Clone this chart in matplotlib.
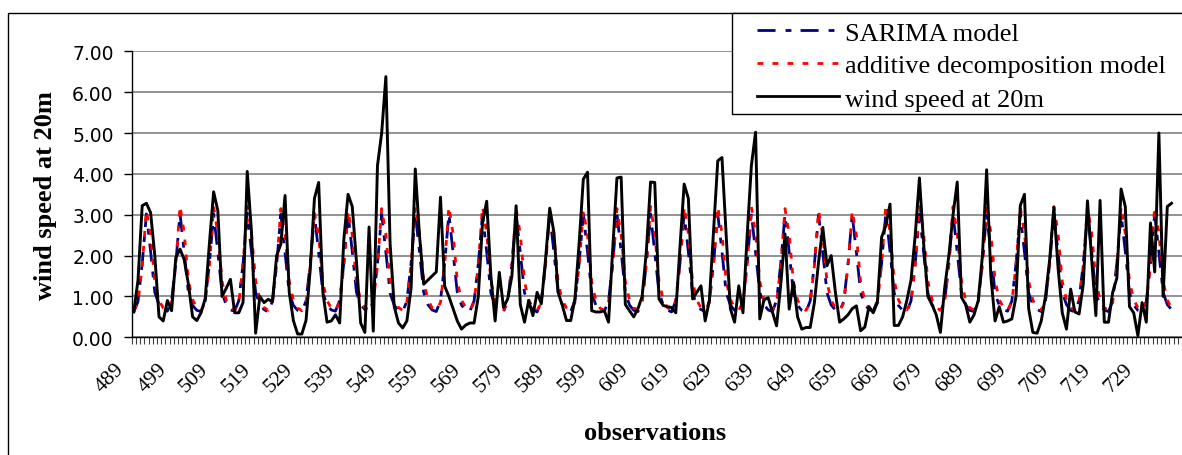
import matplotlib
matplotlib.use("Agg")
import matplotlib.pyplot as plt
from matplotlib.lines import Line2D
from matplotlib.patches import Rectangle
from matplotlib.transforms import ScaledTranslation

# observations 489 .. 736
first_obs = 489

wind_speed = [
    0.62, 1.40, 3.22, 3.28, 3.05, 2.00, 0.50, 0.40,
    0.90, 0.65, 1.95, 2.16, 1.90, 1.30, 0.50, 0.41,
    0.60, 0.95, 2.30, 3.56, 3.10, 1.00, 1.20, 1.42,
    0.60, 0.60, 0.85, 4.06, 2.60, 0.10, 1.00, 0.85,
    0.93, 0.87, 2.00, 2.28, 3.47, 1.10, 0.40, 0.08,
    0.08, 0.42, 1.67, 3.40, 3.79, 1.10, 0.37, 0.40,
    0.55, 0.35, 2.40, 3.50, 3.20, 1.85, 0.35, 0.12,
    2.70, 0.15, 4.20, 5.00, 6.38, 2.30, 0.75, 0.35,
    0.23, 0.40, 1.20, 4.12, 2.50, 1.30, 1.40, 1.50,
    1.60, 3.43, 1.25, 1.00, 0.70, 0.40, 0.20, 0.30,
    0.35, 0.35, 1.00, 2.80, 3.33, 1.50, 0.40, 1.59,
    0.73, 0.94, 1.50, 3.22, 0.80, 0.37, 0.90, 0.53,
    1.10, 0.82, 1.90, 3.16, 2.57, 1.10, 0.78, 0.41,
    0.41, 0.94, 2.30, 3.87, 4.04, 0.65, 0.62, 0.62,
    0.65, 0.37, 2.16, 3.90, 3.92, 0.80, 0.65, 0.50,
    0.70, 1.00, 2.10, 3.80, 3.79, 0.94, 0.78, 0.75,
    0.73, 0.60, 2.20, 3.75, 3.40, 0.94, 1.10, 1.26,
    0.40, 0.90, 2.60, 4.32, 4.40, 2.50, 0.70, 0.37,
    1.26, 0.60, 2.50, 4.20, 5.02, 0.45, 0.92, 0.97,
    0.62, 0.28, 1.30, 2.53, 0.69, 1.35, 0.50, 0.20,
    0.24, 0.24, 0.85, 1.85, 2.69, 1.75, 2.00, 1.10,
    0.37, 0.45, 0.55, 0.70, 0.77, 0.16, 0.25, 0.75,
    0.60, 0.85, 2.45, 2.73, 3.26, 0.29, 0.29, 0.50,
    0.90, 1.40, 2.50, 3.90, 2.30, 1.00, 0.80, 0.55,
    0.12, 1.20, 2.00, 3.00, 3.80, 0.98, 0.80, 0.37,
    0.55, 0.90, 2.00, 4.10, 1.50, 0.40, 0.75, 0.37,
    0.40, 0.45, 1.00, 3.22, 3.50, 0.70, 0.12, 0.10,
    0.40, 1.00, 1.90, 3.18, 1.70, 0.60, 0.20, 1.18,
    0.62, 0.57, 1.30, 3.34, 1.90, 0.53, 3.35, 0.37,
    0.37, 1.10, 1.45, 3.63, 3.20, 0.75, 0.60, 0.04,
    0.85, 0.37, 2.80, 1.60, 5.00, 1.00, 3.20, 3.28,
]

sarima = [
    0.62, 0.88, 1.80, 3.02, 2.10, 1.10, 0.80, 0.68,
    0.64, 0.90, 1.82, 3.03, 2.08, 1.08, 0.78, 0.66,
    0.63, 0.89, 1.81, 3.02, 2.09, 1.09, 0.79, 0.67,
    0.64, 0.90, 1.80, 3.04, 2.10, 1.10, 0.80, 0.68,
    0.62, 0.88, 1.79, 3.01, 2.07, 1.08, 0.78, 0.66,
    0.63, 0.89, 1.81, 3.00, 2.08, 1.09, 0.79, 0.67,
    0.64, 0.90, 1.82, 3.03, 2.10, 1.10, 0.80, 0.68,
    0.63, 0.88, 1.80, 3.02, 2.09, 1.08, 0.78, 0.66,
    0.62, 0.89, 1.81, 3.03, 2.10, 1.10, 0.80, 0.67,
    0.63, 0.90, 1.82, 3.02, 2.08, 1.09, 0.79, 0.66,
    0.64, 0.89, 1.80, 3.01, 2.09, 1.08, 0.78, 0.67,
    0.63, 0.88, 1.79, 3.00, 2.07, 1.09, 0.79, 0.68,
    0.62, 0.89, 1.80, 3.01, 2.08, 1.10, 0.80, 0.66,
    0.63, 0.90, 1.81, 3.02, 2.09, 1.08, 0.78, 0.67,
    0.64, 0.89, 1.82, 3.03, 2.10, 1.09, 0.79, 0.66,
    0.63, 0.88, 1.80, 3.02, 2.08, 1.10, 0.80, 0.67,
    0.62, 0.90, 1.81, 3.03, 2.09, 1.08, 0.78, 0.68,
    0.63, 0.89, 1.82, 3.02, 2.10, 1.09, 0.79, 0.66,
    0.64, 0.88, 1.80, 3.03, 2.08, 1.10, 0.80, 0.67,
    0.63, 0.90, 1.81, 3.01, 2.09, 1.08, 0.78, 0.66,
    0.62, 0.89, 1.79, 3.00, 2.07, 1.09, 0.79, 0.67,
    0.63, 0.88, 1.80, 3.00, 2.08, 1.10, 0.80, 0.68,
    0.64, 0.90, 1.82, 3.04, 2.10, 1.08, 0.78, 0.66,
    0.63, 0.89, 1.81, 3.02, 2.09, 1.09, 0.79, 0.67,
    0.62, 0.88, 1.80, 3.02, 2.08, 1.10, 0.80, 0.66,
    0.63, 0.90, 1.82, 3.04, 2.10, 1.08, 0.78, 0.67,
    0.64, 0.89, 1.81, 3.02, 2.09, 1.09, 0.79, 0.68,
    0.63, 0.88, 1.80, 3.03, 2.08, 1.10, 0.80, 0.66,
    0.62, 0.90, 1.81, 3.02, 2.09, 1.08, 0.78, 0.67,
    0.63, 0.89, 1.82, 3.03, 2.10, 1.09, 0.79, 0.66,
    0.64, 0.88, 1.80, 3.02, 2.08, 1.10, 0.80, 0.68,
]

additive = [
    0.66, 0.85, 1.75, 3.10, 2.50, 1.35, 0.90, 0.72,
    0.67, 0.86, 1.78, 3.22, 2.55, 1.38, 0.92, 0.73,
    0.66, 0.85, 1.77, 3.20, 2.54, 1.37, 0.91, 0.72,
    0.67, 0.86, 1.78, 3.20, 2.55, 1.38, 0.92, 0.73,
    0.66, 0.85, 1.76, 3.15, 2.52, 1.36, 0.91, 0.72,
    0.65, 0.84, 1.74, 3.05, 2.48, 1.34, 0.90, 0.71,
    0.66, 0.85, 1.75, 3.10, 2.50, 1.35, 0.90, 0.72,
    0.67, 0.86, 1.76, 3.15, 2.52, 1.36, 0.91, 0.73,
    0.66, 0.86, 1.78, 3.20, 2.55, 1.38, 0.92, 0.72,
    0.67, 0.85, 1.78, 3.20, 2.54, 1.37, 0.91, 0.73,
    0.66, 0.86, 1.77, 3.20, 2.55, 1.38, 0.92, 0.72,
    0.67, 0.85, 1.76, 3.15, 2.52, 1.36, 0.91, 0.73,
    0.66, 0.84, 1.75, 3.10, 2.50, 1.35, 0.90, 0.72,
    0.65, 0.85, 1.75, 3.10, 2.50, 1.35, 0.90, 0.71,
    0.66, 0.86, 1.76, 3.15, 2.52, 1.36, 0.91, 0.72,
    0.67, 0.85, 1.78, 3.20, 2.55, 1.38, 0.92, 0.73,
    0.66, 0.86, 1.77, 3.20, 2.54, 1.37, 0.91, 0.72,
    0.67, 0.85, 1.78, 3.20, 2.55, 1.38, 0.92, 0.73,
    0.66, 0.86, 1.78, 3.20, 2.54, 1.37, 0.91, 0.72,
    0.67, 0.85, 1.76, 3.15, 2.52, 1.36, 0.91, 0.73,
    0.66, 0.84, 1.75, 3.10, 2.50, 1.35, 0.90, 0.72,
    0.65, 0.85, 1.75, 3.10, 2.50, 1.35, 0.90, 0.71,
    0.66, 0.86, 1.79, 3.25, 2.56, 1.39, 0.92, 0.72,
    0.67, 0.85, 1.78, 3.20, 2.55, 1.38, 0.92, 0.73,
    0.66, 0.86, 1.77, 3.20, 2.54, 1.37, 0.91, 0.72,
    0.67, 0.85, 1.79, 3.25, 2.56, 1.39, 0.92, 0.73,
    0.66, 0.86, 1.78, 3.20, 2.55, 1.38, 0.91, 0.72,
    0.67, 0.85, 1.78, 3.20, 2.54, 1.37, 0.92, 0.73,
    0.66, 0.86, 1.77, 3.20, 2.55, 1.38, 0.91, 0.72,
    0.67, 0.85, 1.78, 3.20, 2.54, 1.37, 0.92, 0.73,
    0.66, 0.86, 1.78, 3.20, 2.55, 1.38, 0.91, 0.72,
]

obs = list(range(first_obs, first_obs + len(wind_speed)))
x_label_obs = list(range(489, 730, 10))
y_ticks = [0, 1, 2, 3, 4, 5, 6, 7]

series_names = ["SARIMA model", "additive decomposition model", "wind speed at 20m"]

W, H = 1182, 456
fig = plt.figure(figsize=(W / 100, H / 100), dpi=100)


def fx(px):
    return px / W


def fy(py):
    return 1 - py / H


# outer chart border (runs off the right and bottom edge)
fig.add_artist(Rectangle((fx(8), -0.1), 1.2, fy(14) + 0.1, transform=fig.transFigure,
                         fill=False, edgecolor="black", linewidth=1.0, zorder=0))

left, top, bottom = 131.7, 52.3, 338.3
ax = fig.add_axes([fx(left), fy(bottom), 1 - fx(left), (bottom - top) / H])

blue_dash = (6.5, 3.6, 2.1, 3.3)
red_dash = (2.1, 3.3)
ax.plot(obs, sarima, color="#000080", lw=2.0, dashes=blue_dash, zorder=3)
ax.plot(obs, additive, color="#ff0000", lw=2.0, dashes=red_dash, zorder=4)
ax.plot(obs, wind_speed, color="black", lw=2.1, solid_joinstyle="round", zorder=5)

ax.set_xlim(first_obs - 0.5, first_obs - 0.5 + (W - left) / 4.23)
ax.set_ylim(0, 7)

ax.set_yticks(y_ticks)
ax.set_yticklabels([f"{v:.2f}" for v in y_ticks], fontsize=13.5)
ax.tick_params(axis="y", direction="out", length=5.5, width=1, pad=7.5, colors="black")
ax.yaxis.grid(True, color="#808080", lw=1.2)
ax.set_axisbelow(True)

ax.set_xticks(x_label_obs)
ax.set_xticklabels([str(v) for v in x_label_obs], fontsize=15.5, family="Liberation Serif",
                   rotation=45, ha="right", va="center", rotation_mode="anchor")
ax.tick_params(axis="x", which="major", length=0, pad=20.5)
ax.set_xticks([first_obs - 0.5 + k for k in range(len(wind_speed) + 3)], minor=True)
ax.tick_params(axis="x", which="minor", direction="out", length=5, width=0.8, color="#404040")
shift = ScaledTranslation(-0.12, 0, fig.dpi_scale_trans)
for lab in ax.get_xticklabels():
    lab.set_transform(lab.get_transform() + shift)

for s in ["top", "right"]:
    ax.spines[s].set_visible(False)
for s in ["left", "bottom"]:
    ax.spines[s].set_color("black")
    ax.spines[s].set_linewidth(1.0)

ax.set_ylabel("wind speed at 20m", fontsize=19, family="Liberation Serif", fontweight="bold")
ax.yaxis.set_label_coords((46 - left) / (W - left), 0.5)
ax.yaxis.label.set_va("center")
ax.set_xlabel("observations", fontsize=19, family="Liberation Serif", fontweight="bold")
ax.xaxis.set_label_coords((655 - left) / (W - left), (bottom - 434) / (bottom - top))
ax.xaxis.label.set_va("center")

# legend box in the top right corner, drawn over the plot area
fig.add_artist(Rectangle((fx(731.7), fy(115)), 0.5, fy(14) - fy(115), transform=fig.transFigure,
                         facecolor="white", edgecolor="black", linewidth=1.0, zorder=10))
styles = [dict(color="#000080", dashes=blue_dash),
          dict(color="#ff0000", dashes=red_dash),
          dict(color="black")]
handle_y = [31.3, 64.0, 97.3]
text_y = [40.7, 73.3, 106.7]
for name, st, hy, ty in zip(series_names, styles, handle_y, text_y):
    fig.add_artist(Line2D([fx(757), fx(839)], [fy(hy), fy(hy)], transform=fig.transFigure,
                          lw=2.0, zorder=11, **st))
    fig.text(fx(845), fy(ty), name, fontsize=19, family="Liberation Serif",
             va="baseline", ha="left", zorder=12)

fig.savefig("out.png", dpi=100)
